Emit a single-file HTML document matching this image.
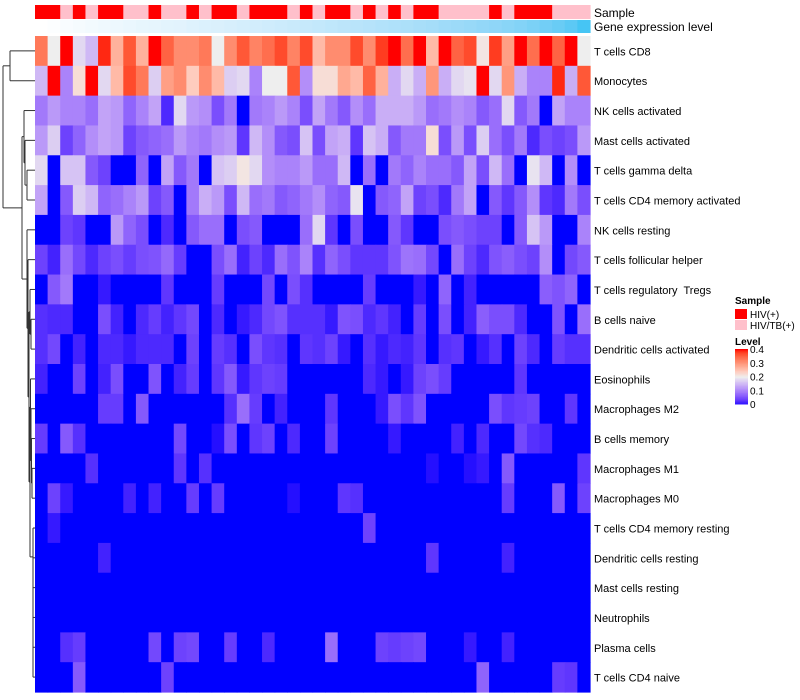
<!DOCTYPE html>
<html><head><meta charset="utf-8">
<style>
html,body{margin:0;padding:0;background:#fff;}
svg{display:block;font-family:"Liberation Sans",sans-serif;}
#rowlabels text{white-space:pre;}
</style></head>
<body>
<svg id="chart" width="800" height="700" viewBox="0 0 800 700">
  <g id="dendro" stroke="#333" stroke-width="1" fill="none"></g>
  <g id="annot"></g>
  <g id="cells"></g>
  <g id="rowlabels"></g>
  <text x="594" y="17" font-size="12" fill="#000">Sample</text>
  <text x="594" y="31" font-size="12" fill="#000">Gene expression level</text>
  <g id="legend">
    <text x="735" y="304" font-size="10" font-weight="bold">Sample</text>
    <rect x="735" y="309" width="12" height="10" fill="#FF0000"/>
    <text x="750" y="318" font-size="10">HIV(+)</text>
    <rect x="735" y="320" width="12" height="10" fill="#FFC0CB"/>
    <text x="750" y="329" font-size="10">HIV/TB(+)</text>
    <text x="735" y="345" font-size="10" font-weight="bold">Level</text>
    <g id="colorbar"></g>
  </g>
</svg>
<script>
const rowNames=["T cells CD8","Monocytes","NK cells activated","Mast cells activated","T cells gamma delta","T cells CD4 memory activated","NK cells resting","T cells follicular helper","T cells regulatory  Tregs","B cells naive","Dendritic cells activated","Eosinophils","Macrophages M2","B cells memory","Macrophages M1","Macrophages M0","T cells CD4 memory resting","Dendritic cells resting","Mast cells resting","Neutrophils","Plasma cells","T cells CD4 naive"];
const sampleGroup=[1,1,0,1,0,1,1,0,0,1,0,0,1,0,1,1,0,1,1,1,0,1,0,1,1,0,1,0,1,0,1,1,0,0,0,0,1,0,1,1,1,0,0,0];
const geneExpr=[0,0.02,0.05,0.07,0.09,0.11,0.12,0.14,0.16,0.17,0.19,0.2,0.22,0.24,0.25,0.27,0.29,0.3,0.32,0.34,0.36,0.38,0.4,0.42,0.44,0.46,0.48,0.5,0.52,0.54,0.56,0.58,0.61,0.63,0.65,0.68,0.7,0.73,0.76,0.8,0.84,0.88,0.93,1];
const levelTicks=[0,0.1,0.2,0.3,0.4];
const r0=[0.33,0.2,0.4,0.18,0.15,0.39,0.27,0.36,0.27,0.4,0.35,0.31,0.31,0.33,0.2,0.31,0.36,0.32,0.34,0.37,0.32,0.37,0.26,0.31,0.31,0.37,0.31,0.38,0.4,0.34,0.4,0.26,0.4,0.35,0.37,0.21,0.38,0.29,0.4,0.34,0.4,0.35,0.4,0.2];
const r1=[0.15,0.4,0.1,0.22,0.4,0.18,0.26,0.37,0.33,0.17,0.29,0.31,0.24,0.31,0.26,0.17,0.18,0.1,0.2,0.2,0.36,0.11,0.22,0.22,0.28,0.26,0.35,0.27,0.14,0.18,0.14,0.3,0.14,0.18,0.19,0.4,0.18,0.3,0.14,0.1,0.1,0.39,0.14,0.36];
const r2=[0.09,0.12,0.1,0.1,0.08,0.13,0.12,0.07,0.1,0.13,0.02,0.18,0.12,0.11,0.05,0.09,0,0.09,0.1,0.12,0.1,0.05,0.13,0.09,0.06,0.11,0.08,0.14,0.14,0.14,0.12,0.08,0.09,0.11,0.1,0.06,0.08,0.18,0.06,0.09,0,0.13,0.1,0.1];
const r3=[0.12,0.17,0.04,0.07,0.11,0.13,0.12,0.04,0.06,0.07,0.08,0.12,0.1,0.09,0.11,0.12,0.03,0.15,0.11,0.06,0.05,0.16,0.05,0.13,0.14,0.03,0.16,0.14,0.06,0.09,0.09,0.22,0.05,0.12,0.05,0.17,0.08,0.05,0.09,0.02,0.05,0.04,0.05,0.12];
const r4=[0.18,0,0.16,0.16,0.06,0.04,0,0,0.07,0,0.13,0.06,0.09,0,0.16,0.17,0.21,0.18,0.11,0.1,0.1,0.12,0.08,0.08,0.15,0,0.08,0,0.09,0.07,0.1,0.08,0.08,0.06,0.13,0.05,0.15,0.08,0,0.19,0.15,0,0.11,0];
const r5=[0.13,0,0.06,0.17,0.15,0.07,0.08,0.1,0.12,0.04,0.06,0,0.09,0.14,0.12,0.05,0.15,0.08,0.09,0.06,0.07,0.09,0.11,0.07,0.06,0.19,0,0.06,0.07,0.13,0.04,0.05,0.02,0.09,0.13,0,0.06,0.03,0.06,0.11,0.03,0.02,0.09,0.05];
const r6=[0,0,0.04,0.03,0,0,0.12,0.07,0.05,0,0.02,0,0.06,0.08,0.08,0,0.05,0.06,0,0,0,0.08,0.18,0.03,0,0.05,0,0,0.06,0.03,0,0,0.05,0.06,0.05,0.04,0.04,0,0.06,0.16,0.12,0,0,0.1];
const r7=[0.04,0.015,0.08,0.045,0.02,0.04,0.05,0.035,0.05,0.055,0.075,0.035,0,0,0.05,0.08,0.015,0.04,0.02,0.08,0.055,0.1,0.025,0.07,0.05,0.03,0.03,0.03,0.055,0.085,0.08,0.045,0,0.08,0.04,0.02,0.055,0.065,0.05,0.04,0.11,0,0.045,0.06];
const r8=[0,0.06,0.09,0,0,0.01,0,0,0,0,0.03,0,0,0,0.035,0,0,0,0.045,0,0.05,0.025,0,0,0,0,0.035,0,0,0,0.01,0,0.07,0,0.015,0,0,0,0,0,0.065,0.055,0.07,0];
const r9=[0.025,0.02,0.02,0,0,0.05,0.015,0,0.02,0.035,0.015,0.03,0.045,0,0.02,0,0.01,0.02,0.045,0.055,0.025,0.025,0.025,0.01,0.055,0.05,0.02,0.03,0.015,0,0.035,0,0.05,0,0.015,0.065,0.05,0.05,0.02,0,0,0.055,0,0.08];
const r10=[0.025,0.045,0,0.015,0,0.02,0.02,0.01,0.02,0.02,0.02,0,0.04,0,0.035,0.025,0,0.05,0.03,0.025,0,0.03,0.025,0.04,0.01,0,0.025,0.01,0.02,0.015,0.03,0,0.025,0.03,0,0.01,0.025,0,0.04,0.02,0,0.035,0.025,0.025];
const r11=[0.015,0,0,0.04,0,0.015,0.05,0,0,0.055,0,0.015,0.035,0,0.03,0.06,0.01,0.03,0.04,0.035,0,0,0,0,0,0,0.02,0.01,0,0.01,0.04,0.05,0.035,0,0,0,0,0,0.03,0,0,0,0,0];
const r12=[0,0,0,0,0,0.035,0.035,0,0.06,0,0,0,0,0,0,0.025,0.08,0.035,0,0.015,0,0,0,0.03,0,0,0,0.01,0.05,0.03,0.055,0,0,0,0,0,0.05,0.03,0.035,0.04,0,0,0.03,0];
const r13=[0.035,0,0.06,0.025,0,0,0,0,0,0,0,0.045,0,0,0.005,0.05,0,0.03,0.04,0,0.02,0,0,0.04,0,0,0,0,0.01,0,0,0,0,0.015,0,0.02,0,0,0.045,0.025,0.02,0,0,0];
const r14=[0,0,0,0,0.025,0,0,0,0,0,0,0.03,0,0.025,0,0,0,0,0,0,0,0,0,0,0,0,0,0,0,0,0,0.005,0,0,0.005,0.01,0,0.06,0,0,0,0,0,0.03];
const r15=[0,0.04,0.01,0,0,0,0,0.015,0,0.015,0,0,0.035,0,0.035,0,0,0,0,0,0.005,0,0,0,0.03,0.025,0,0,0,0,0,0,0,0,0,0,0,0.035,0,0,0,0.06,0,0.04];
const r16=[0,0.01,0,0,0,0,0,0,0,0,0,0,0,0,0,0,0,0,0,0,0,0,0,0,0,0,0.04,0,0,0,0,0,0,0,0,0,0,0,0,0,0,0,0,0];
const r17=[0,0,0,0,0,0.015,0,0,0,0,0,0,0,0,0,0,0,0,0,0,0,0,0,0,0,0,0,0,0,0,0,0.03,0,0,0,0,0,0.015,0,0,0,0,0,0];
const r18=[0,0,0,0,0,0,0,0,0,0,0,0,0,0,0,0,0,0,0,0,0,0,0,0,0,0,0,0,0,0,0,0,0,0,0,0,0,0,0,0,0,0,0,0];
const r19=[0,0,0,0,0,0,0,0,0,0,0,0,0,0,0,0,0,0,0,0,0,0,0,0,0,0,0,0,0,0,0,0,0,0,0,0,0,0,0,0,0,0,0,0];
const r20=[0,0,0.025,0.035,0,0,0,0,0,0.045,0,0.04,0.045,0,0,0.035,0,0,0.02,0,0,0,0,0.08,0,0,0,0.04,0.035,0.04,0.045,0,0,0,0.01,0,0,0.015,0,0,0,0,0,0];
const r21=[0,0,0,0.06,0,0,0,0,0,0,0.04,0,0,0,0,0,0,0,0,0,0,0,0,0,0,0,0,0,0,0,0,0,0,0,0,0.07,0,0,0,0,0,0.035,0.03,0];
const levels=[r0,r1,r2,r3,r4,r5,r6,r7,r8,r9,r10,r11,r12,r13,r14,r15,r16,r17,r18,r19,r20,r21];

const NS="http://www.w3.org/2000/svg";
const X0=35,X1=590,Y0=36,Y1=692;
const nCol=sampleGroup.length,nRow=rowNames.length;
const cw=(X1-X0)/nCol,rh=(Y1-Y0)/nRow;
function xPos(i){return X0+i*cw;}
function yPos(j){return Y0+j*rh;}

function s2l(c){c/=255;return c<=0.04045?c/12.92:Math.pow((c+0.055)/1.055,2.4);}
function l2s(c){c=c<=0.0031308?12.92*c:1.055*Math.pow(c,1/2.4)-0.055;return Math.max(0,Math.min(255,Math.round(c*255)));}
function toLab(rgb){const r=s2l(rgb[0]),g=s2l(rgb[1]),b=s2l(rgb[2]);
 let x=(0.4124*r+0.3576*g+0.1805*b)/0.95047,y=0.2126*r+0.7152*g+0.0722*b,z=(0.0193*r+0.1192*g+0.9505*b)/1.08883;
 const f=t=>t>0.008856?Math.cbrt(t):7.787*t+16/116;x=f(x);y=f(y);z=f(z);return[116*y-16,500*(x-y),200*(y-z)];}
function fromLab(l){let y=(l[0]+16)/116,x=l[1]/500+y,z=y-l[2]/200;
 const fi=t=>t*t*t>0.008856?t*t*t:(t-16/116)/7.787;x=fi(x)*0.95047;y=fi(y);z=fi(z)*1.08883;
 const r=3.2406*x-1.5372*y-0.4986*z,g=-0.9689*x+1.8758*y+0.0415*z,b=0.0557*x-0.2040*y+1.0570*z;
 return "rgb("+l2s(r)+","+l2s(g)+","+l2s(b)+")";}
const labB=toLab([0,0,255]),labW=toLab([238,238,238]),labR=toLab([255,0,0]);
const labWhite=toLab([255,255,255]);
function mix(a,b,t){return[a[0]+(b[0]-a[0])*t,a[1]+(b[1]-a[1])*t,a[2]+(b[2]-a[2])*t];}
function levelColor(v){v=Math.max(0,Math.min(0.4,v));
 return v<=0.2?fromLab(mix(labB,labW,v/0.2)):fromLab(mix(labW,labR,(v-0.2)/0.2));}
const labC=toLab([70,197,244]);
function exprColor(t){return fromLab(mix(labWhite,labC,t));}

const cells=document.getElementById('cells');
levels.forEach((row,j)=>{row.forEach((v,i)=>{
 const r=document.createElementNS(NS,'rect');
 r.setAttribute('x',xPos(i));r.setAttribute('y',yPos(j));
 r.setAttribute('width',cw+0.6);r.setAttribute('height',rh+0.6);
 r.setAttribute('fill',levelColor(v));
 
 
 cells.appendChild(r);});});

const annot=document.getElementById('annot');
sampleGroup.forEach((g,i)=>{
 const r=document.createElementNS(NS,'rect');
 r.setAttribute('x',xPos(i));r.setAttribute('y',5);r.setAttribute('width',cw+0.6);r.setAttribute('height',14);
 r.setAttribute('fill',g?'#FF0000':'#FFC0CB');
 
 
 annot.appendChild(r);});
geneExpr.forEach((t,i)=>{
 const r=document.createElementNS(NS,'rect');
 r.setAttribute('x',xPos(i));r.setAttribute('y',20);r.setAttribute('width',cw+0.6);r.setAttribute('height',13);
 r.setAttribute('fill',exprColor(t));
 
 
 annot.appendChild(r);});

const rl=document.getElementById('rowlabels');
rowNames.forEach((n,j)=>{
 const t=document.createElementNS(NS,'text');
 t.setAttribute('x',594);t.setAttribute('y',yPos(j)+rh/2+4.5);
 t.setAttribute('font-size','11');
 t.textContent=n;
 
 
 rl.appendChild(t);});

const cb=document.getElementById('colorbar');
const cbTop=349,cbBot=404;
for(let k=0;k<40;k++){
 const v=0.4-k*0.01;
 const r=document.createElementNS(NS,'rect');
 r.setAttribute('x',735);r.setAttribute('y',cbTop+(cbBot-cbTop)*k/40);r.setAttribute('width',13);r.setAttribute('height',(cbBot-cbTop)/40+0.5);
 r.setAttribute('fill',levelColor(v));
 
 
 cb.appendChild(r);}
levelTicks.forEach(v=>{
 const y=cbBot-(cbBot-cbTop)*v/0.4;
 const t=document.createElementNS(NS,'text');
 t.setAttribute('x',750);t.setAttribute('y',y+4);t.setAttribute('font-size','10');
 t.textContent=String(v);
 
 
 cb.appendChild(t);});

const dg=document.getElementById('dendro');
function yc(j){return yPos(j)+rh/2;}
function line(x1,y1,x2,y2){const l=document.createElementNS(NS,'path');
 l.setAttribute('d','M'+x1+' '+y1+'L'+x2+' '+y2);
 
 
 dg.appendChild(l);}
function node(y1,x1,y2,x2,x){line(x1,y1,x,y1);line(x2,y2,x,y2);line(x,y1,x,y2);return[(y1+y2)/2,x];}
const a=node(yc(0),X0,yc(1),X0,10);
let low=[yc(21),X0];
for(let j=20;j>=16;j--){low=node(yc(j),X0,low[0],low[1],33);}
let m=node(yc(14),X0,yc(15),X0,32);
m=node(yc(13),X0,m[0],m[1],31.5);
m=node(yc(12),X0,m[0],m[1],31);
m=node(yc(11),X0,m[0],m[1],30.5);
let mid=node(m[0],m[1],low[0],low[1],30);
let b=node(yc(9),X0,yc(10),X0,31);
b=node(yc(8),X0,b[0],b[1],30);
b=node(b[0],b[1],mid[0],mid[1],29);
b=node(yc(7),X0,b[0],b[1],28);
b=node(yc(6),X0,b[0],b[1],27);
let c=node(yc(4),X0,yc(5),X0,27);
c=node(yc(3),X0,c[0],c[1],25);
c=node(yc(2),X0,c[0],c[1],24);
const rest=node(c[0],c[1],b[0],b[1],22);
node(a[0],a[1],rest[0],rest[1],3);
</script>
</body></html>
